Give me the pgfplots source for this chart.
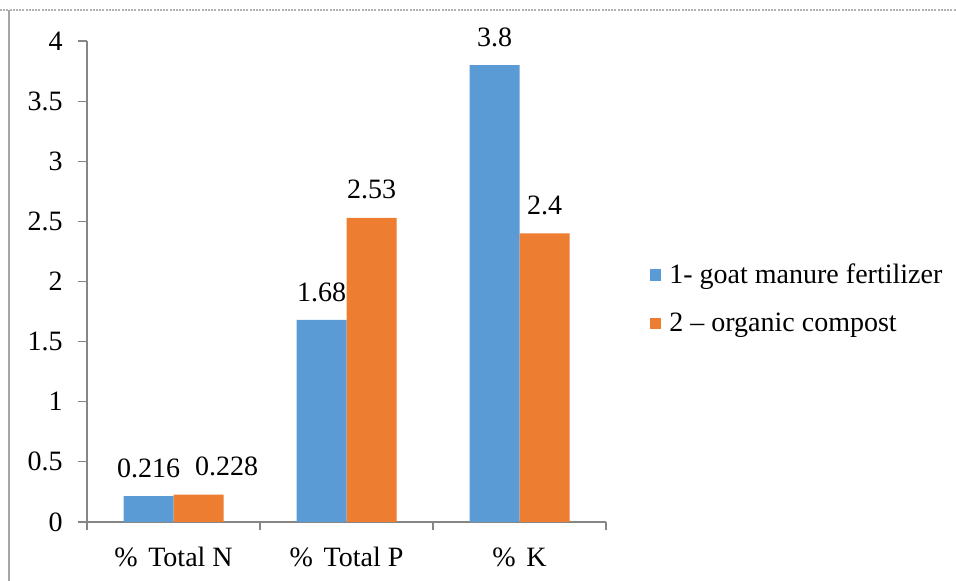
\documentclass[border=0pt]{standalone}
\usepackage{fontspec}
\setmainfont{Liberation Serif}
\usepackage{pgfplots}
\usepackage{pgfplotstable}
\pgfplotsset{compat=1.18}
\definecolor{barblue}{HTML}{5B9BD5}
\definecolor{barorange}{HTML}{ED7D31}
\definecolor{axisgray}{HTML}{868686}

% x: category index, dx: label shift in pt
\pgfplotstableread{
x y lab dx
0 0.216 0.216 0
1 1.68 1.68 0
2 3.8 3.8 0
}\goat
\pgfplotstableread{
x y lab dx
0 0.228 0.228 14
1 2.53 2.53 0
2 2.4 2.4 0
}\compost

\begin{document}
\begin{tikzpicture}
\useasboundingbox (0,0) rectangle (478pt,290.5pt);
% page frame remnants
\draw[gray!60, dash pattern=on 1pt off 0.6pt, line width=0.6pt] (0,285.5pt) -- (478pt,285.5pt);
\draw[gray!70, line width=0.6pt] (4.5pt,0) -- (4.5pt,285.5pt);
\begin{axis}[
    at={(43.5pt,29.5pt)}, anchor=south west,
    scale only axis,
    width=259.5pt, height=240.5pt,
    xmin=-0.5, xmax=2.5, ymin=0, ymax=4,
    ybar=0pt, bar width=25pt,
    axis lines=left,
    axis line style={-, draw=axisgray, line width=0.6pt},
    xtick={0,1,2},
    xticklabels={\%\hspace{0.38em}Total N, \%\hspace{0.38em}Total P, \%\hspace{0.38em}K},
    major x tick style={draw=none},
    minor xtick={-0.5,0.5,1.5,2.5},
    ytick={0,0.5,1,1.5,2,2.5,3,3.5,4},
    tick align=outside,
    tick style={draw=axisgray, line width=0.6pt},
    major tick length=4.5pt, minor tick length=4pt,
    /pgf/number format/assume math mode=true,
    ticklabel style={font=\fontsize{14}{16}\selectfont},
    yticklabel style={inner sep=0pt, xshift=-7.5pt},
    xticklabel style={inner sep=0pt, yshift=-8pt},
    nodes near coords,
    point meta=explicit symbolic,
    visualization depends on={\thisrow{dx} \as \labdx},
    every node near coord/.append style={font=\fontsize{14}{16}\selectfont,
        inner sep=0pt, anchor=south, yshift=9pt, xshift=\labdx pt},
    legend style={draw=none, fill=none, at={(1.0848,0.4636)}, anchor=west,
        inner sep=0pt, row sep=13pt, column sep=4pt,
        font=\fontsize{14}{16}\selectfont,
        cells={anchor=west}, nodes={inner sep=0pt}},
    legend image code/.code={\fill[#1] (0pt,-2.9pt) rectangle (5.5pt,2.9pt);},
]
\addplot[fill=barblue, draw=none] table[x=x, y=y, meta=lab] {\goat};
\addplot[fill=barorange, draw=none] table[x=x, y=y, meta=lab] {\compost};
\legend{1- goat manure fertilizer, 2 -- organic compost}
\end{axis}
\end{tikzpicture}
\end{document}
